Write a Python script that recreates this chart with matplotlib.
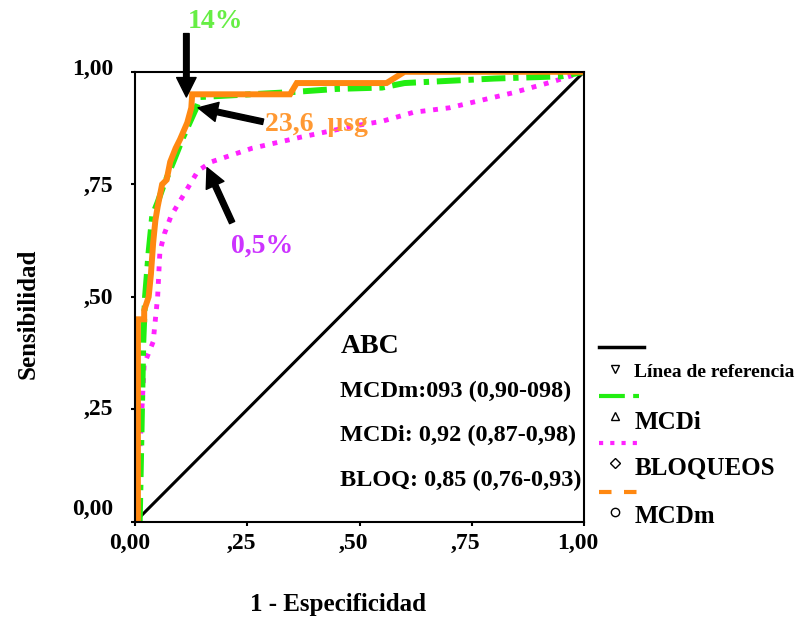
import matplotlib.pyplot as plt
from matplotlib.lines import Line2D
from matplotlib.transforms import ScaledTranslation

plt.rcParams['font.family'] = ['Liberation Serif', 'DejaVu Serif']
plt.rcParams['font.weight'] = 'bold'

# ROC curves (1 - especificidad, sensibilidad)
ref_x = [0.0, 1.0]
ref_y = [0.0, 1.0]

mcdm_x = [0.006, 0.006, 0.02, 0.02, 0.03, 0.035, 0.04, 0.045, 0.05, 0.06, 0.07, 0.078,
          0.09, 0.10, 0.116, 0.125, 0.127, 0.345, 0.36, 0.56, 0.60, 1.0]
mcdm_y = [0.0, 0.45, 0.45, 0.47, 0.50, 0.55, 0.62, 0.67, 0.70, 0.75, 0.76, 0.80,
          0.83, 0.85, 0.887, 0.92, 0.95, 0.95, 0.975, 0.975, 1.0, 1.0]

mcdi_x = [0.01, 0.012, 0.015, 0.018, 0.022, 0.03, 0.038, 0.05, 0.062, 0.085, 0.107,
          0.134, 0.145, 0.35, 0.45, 0.55, 0.60, 0.80, 0.95, 1.0]
mcdi_y = [0.0, 0.10, 0.25, 0.40, 0.50, 0.60, 0.68, 0.71, 0.744, 0.80, 0.855,
          0.915, 0.944, 0.955, 0.962, 0.965, 0.975, 0.985, 0.99, 1.0]

bloq_x = [0.005, 0.005, 0.01, 0.015, 0.02, 0.04, 0.05, 0.055, 0.065, 0.08, 0.11, 0.14,
          0.17, 0.26, 0.37, 0.49, 0.55, 0.62, 0.70, 0.84, 0.93, 1.0]
bloq_y = [0.0, 0.10, 0.15, 0.25, 0.35, 0.40, 0.50, 0.60, 0.64, 0.68, 0.73, 0.78,
          0.80, 0.83, 0.855, 0.88, 0.89, 0.91, 0.92, 0.953, 0.978, 1.0]

ticks = [0.0, 0.25, 0.5, 0.75, 1.0]
tick_labels = ['0,00', ',25', ',50', ',75', '1,00']
abc_lines = ['MCDm:093 (0,90-098)', 'MCDi: 0,92 (0,87-0,98)', 'BLOQ: 0,85 (0,76-0,93)']

green = '#22ee11'
magenta = '#ff22ff'
orange = '#ff8811'

fig = plt.figure(figsize=(8, 6.19), dpi=100)
ax = fig.add_axes([0.169, 0.157, 0.561, 0.727])

ax.plot(ref_x, ref_y, color='black', lw=2.2)
ax.plot(bloq_x, bloq_y, color=magenta, lw=3.5, linestyle=(0, (1, 1.6)))
ax.plot(mcdi_x, mcdi_y, color=green, lw=4.3, linestyle=(0, (4, 1.3, 0.9, 1.3)))
ax.plot(mcdm_x, mcdm_y, color=orange, lw=4.3, solid_joinstyle='miter')

ax.set_xlim(0, 1)
ax.set_ylim(0, 1)
ax.set_xticks(ticks)
ax.set_xticklabels(tick_labels)
ax.set_yticks(ticks)
ax.set_yticklabels(tick_labels)
ax.tick_params(labelsize=17, length=3, width=1.5)
ax.tick_params(axis='y', pad=13)
ax.tick_params(axis='x', pad=5)
for s in ax.spines.values():
    s.set_linewidth(1.5)

# small offsets of tick labels as in the original
for lab in ax.get_xticklabels():
    lab.set_transform(lab.get_transform() + ScaledTranslation(-6 / 100, 0, fig.dpi_scale_trans))
for lab, dy in zip(ax.get_yticklabels(), [15, 2, 1, 0, 5]):
    lab.set_transform(lab.get_transform() + ScaledTranslation(0, dy / 100, fig.dpi_scale_trans))

ax.set_xlabel('1 - Especificidad', fontsize=18, fontweight='bold')
ax.set_ylabel('Sensibilidad', fontsize=18, fontweight='bold')
ax.xaxis.label.set_va('center')
ax.yaxis.label.set_va('center')
ax.xaxis.set_label_coords(0.452, -0.184)
ax.yaxis.set_label_coords(-0.238, 0.462)

# annotations
arrow = dict(facecolor='black', edgecolor='black', width=4, headwidth=14, headlength=14, shrink=0)
ax.annotate('', xy=(0.114, 0.944), xytext=(0.114, 1.085), arrowprops=arrow, annotation_clip=False)
ax.text(0.178, 1.111, '14%', color='#66ee44', fontsize=20, ha='center', va='center', clip_on=False)
ax.annotate('', xy=(0.14, 0.92), xytext=(0.285, 0.889), arrowprops=arrow)
ax.text(0.29, 0.882, '23,6  μsg', color='#ff9933', fontsize=20, ha='left', va='center')
ax.annotate('', xy=(0.16, 0.787), xytext=(0.216, 0.665), arrowprops=arrow)
ax.text(0.283, 0.613, '0,5%', color='#cc33ff', fontsize=20, ha='center', va='center')

ax.text(0.457, 0.389, 'ABC', fontsize=20, ha='left', va='center')
for i, t in enumerate(abc_lines):
    ax.text(0.457, 0.289 - i * 0.098, t, fontsize=17.5, ha='left', va='center', clip_on=False)

# legend (SPSS style: line row, then marker row with label)
lx = [0.749, 0.805]
mx = 0.769
handles = [
    (Line2D(lx, [0.4394, 0.4394], color='black', lw=2.5), None),
    (Line2D([mx], [0.4039], marker='v', mfc='white', mec='black', ms=6, lw=0), ('Línea de referencia', 14, 0.399)),
    (Line2D(lx, [0.3603, 0.3603], color=green, lw=3, linestyle=(0, (6.2, 2, 1.4, 2))), None),
    (Line2D([mx], [0.328], marker='^', mfc='white', mec='black', ms=6, lw=0), ('MCDi', 18, 0.318)),
    (Line2D(lx, [0.2843, 0.2843], color=magenta, lw=3, linestyle=(0, (1, 1.7))), None),
    (Line2D([mx], [0.252], marker='D', mfc='white', mec='black', ms=5, lw=0), ('BLOQUEOS', 18, 0.244)),
    (Line2D(lx, [0.205, 0.205], color=orange, lw=3, linestyle=(0, (3, 3))), None),
    (Line2D([mx], [0.173], marker='o', mfc='white', mec='black', ms=6, lw=0), ('MCDm', 18, 0.165)),
]
for h, lab in handles:
    h.set_transform(fig.transFigure)
    fig.add_artist(h)
    if lab:
        fig.text(0.793, lab[2], lab[0], fontsize=lab[1], ha='left', va='center')

fig.savefig('out.png', dpi=100)
